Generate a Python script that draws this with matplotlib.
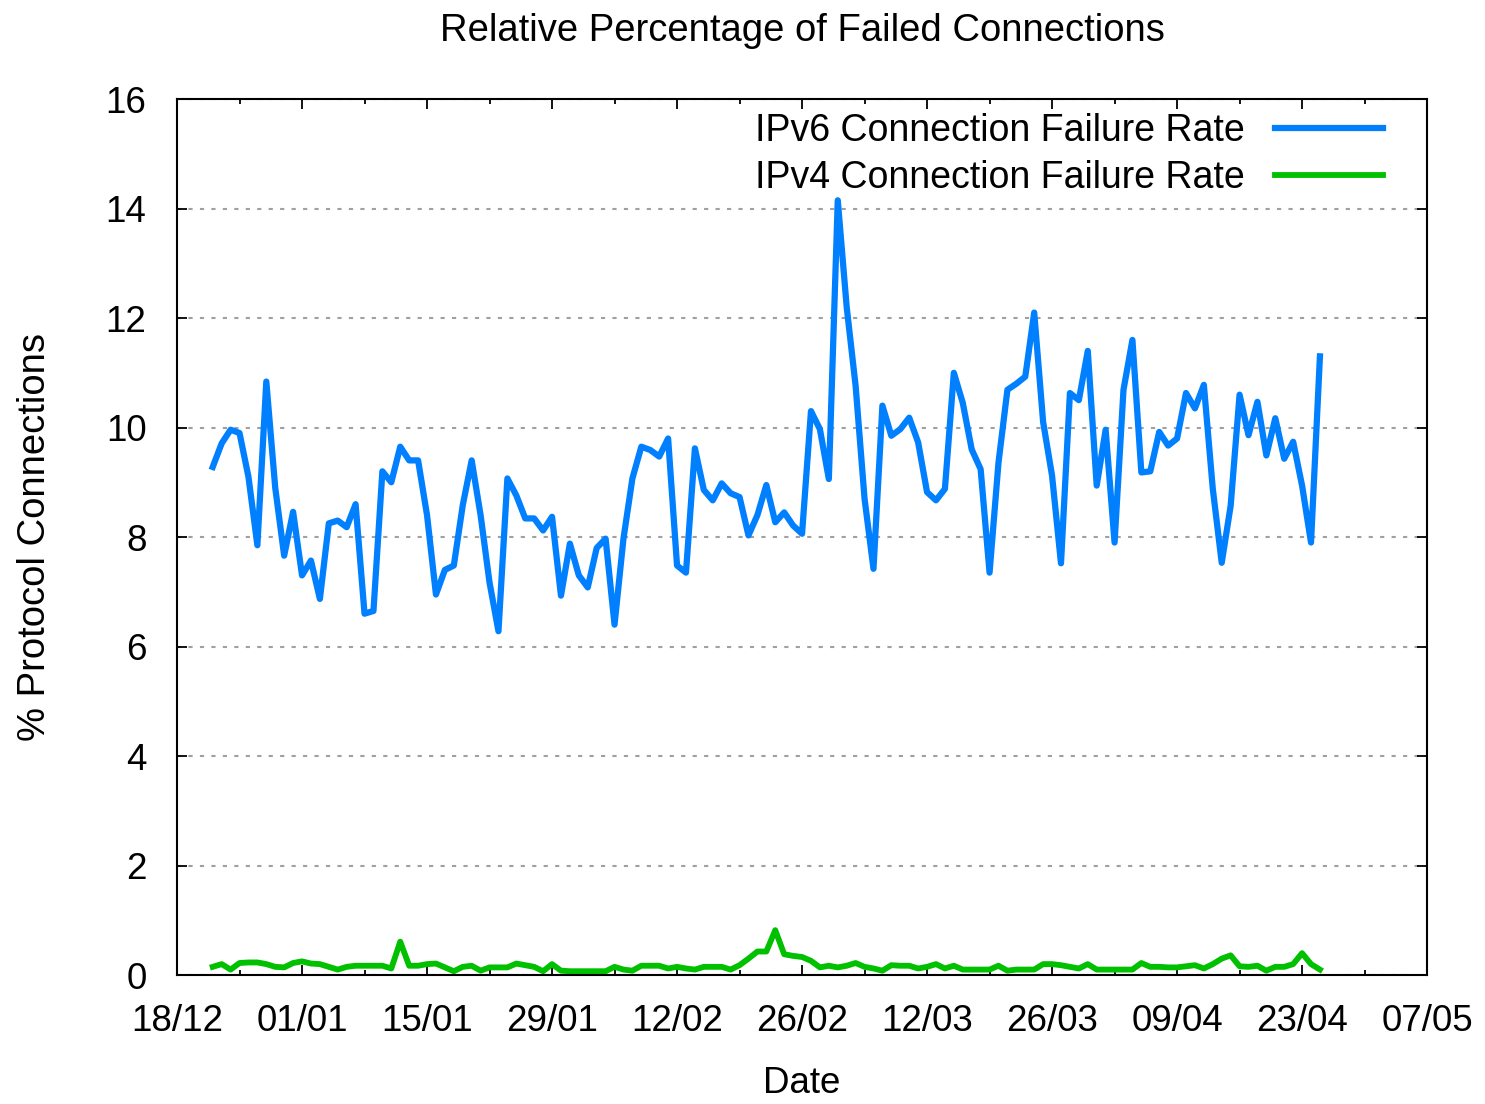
import matplotlib
matplotlib.use("Agg")
import matplotlib.pyplot as plt
import matplotlib.dates as mdates
import pandas as pd

# daily samples, 22/12/2010 .. 25/04/2011
start_date = "2010-12-22"

ipv6_rate = [
    9.28, 9.71, 9.96, 9.90, 9.10, 7.85, 10.84, 8.90, 7.66, 8.46,
    7.30, 7.57, 6.87, 8.25, 8.30, 8.18, 8.60, 6.60, 6.65, 9.20,
    9.00, 9.65, 9.40, 9.40, 8.40, 6.95, 7.40, 7.48, 8.58, 9.40,
    8.40, 7.17, 6.28, 9.07, 8.76, 8.34, 8.34, 8.12, 8.37, 6.93,
    7.88, 7.30, 7.08, 7.80, 7.97, 6.40, 7.97, 9.07, 9.65, 9.59,
    9.47, 9.80, 7.48, 7.35, 9.62, 8.86, 8.67, 8.98, 8.80, 8.73,
    8.03, 8.40, 8.95, 8.27, 8.45, 8.21, 8.06, 10.30, 9.97, 9.06,
    14.15, 12.20, 10.76, 8.70, 7.42, 10.40, 9.85, 9.97, 10.18, 9.73,
    8.82, 8.67, 8.88, 11.00, 10.45, 9.60, 9.24, 7.35, 9.36, 10.69,
    10.80, 10.93, 12.10, 10.10, 9.12, 7.52, 10.63, 10.50, 11.40, 8.94,
    9.96, 7.90, 10.69, 11.60, 9.18, 9.20, 9.92, 9.67, 9.80, 10.63,
    10.35, 10.78, 8.88, 7.53, 8.57, 10.60, 9.86, 10.47, 9.49, 10.17,
    9.43, 9.74, 8.94, 7.90, 11.30,
]

ipv4_rate = [
    0.15, 0.20, 0.10, 0.22, 0.23, 0.23, 0.20, 0.15, 0.14, 0.22,
    0.25, 0.21, 0.20, 0.15, 0.10, 0.15, 0.17, 0.17, 0.17, 0.17,
    0.12, 0.61, 0.17, 0.17, 0.20, 0.21, 0.14, 0.07, 0.15, 0.17,
    0.08, 0.14, 0.14, 0.14, 0.21, 0.18, 0.15, 0.07, 0.20, 0.08,
    0.07, 0.07, 0.07, 0.07, 0.07, 0.15, 0.10, 0.08, 0.17, 0.17,
    0.17, 0.12, 0.15, 0.12, 0.10, 0.15, 0.15, 0.15, 0.10, 0.18,
    0.30, 0.43, 0.43, 0.82, 0.38, 0.35, 0.33, 0.26, 0.14, 0.17,
    0.14, 0.17, 0.22, 0.15, 0.12, 0.08, 0.18, 0.17, 0.17, 0.12,
    0.15, 0.20, 0.12, 0.17, 0.10, 0.10, 0.10, 0.10, 0.17, 0.08,
    0.10, 0.10, 0.10, 0.20, 0.20, 0.18, 0.15, 0.12, 0.20, 0.10,
    0.10, 0.10, 0.10, 0.10, 0.22, 0.15, 0.15, 0.14, 0.14, 0.16,
    0.18, 0.12, 0.20, 0.30, 0.36, 0.16, 0.15, 0.17, 0.08, 0.15,
    0.15, 0.20, 0.40, 0.20, 0.10,
]

dates = pd.date_range(start_date, periods=len(ipv6_rate), freq="D")

plt.rcParams["font.family"] = ["Liberation Sans", "DejaVu Sans"]

fig = plt.figure(figsize=(14.85, 11.04), dpi=100)
ax = fig.add_axes([0.1192, 0.1168, 0.8418, 0.7935])

ax.plot(dates, ipv6_rate, color="#0080ff", lw=4.5, label="IPv6 Connection Failure Rate")
ax.plot(dates, ipv4_rate, color="#00c000", lw=4.2, label="IPv4 Connection Failure Rate")

ax.set_xlim(pd.Timestamp("2010-12-18"), pd.Timestamp("2011-05-07"))
ax.set_ylim(0, 16)
ax.set_yticks(range(0, 17, 2))
ax.set_xticks(pd.date_range("2010-12-18", "2011-05-07", freq="14D"))
ax.set_xticks(pd.date_range("2010-12-18", "2011-05-07", freq="7D"), minor=True)
ax.xaxis.set_major_formatter(mdates.DateFormatter("%d/%m"))

ax.grid(axis="y", color="#a0a0a0", lw=1.5, linestyle=(0, (2, 3.5)))
ax.tick_params(which="both", direction="in", top=True, right=True, width=1.3,
               labelsize=26.5)
ax.tick_params(which="major", length=7)
ax.tick_params(axis="x", which="major", pad=21)
ax.tick_params(axis="y", which="major", pad=22)
ax.tick_params(which="minor", length=3.5)
for s in ax.spines.values():
    s.set_linewidth(1.5)

ax.set_title("Relative Percentage of Failed Connections", fontsize=27.5, pad=42)
ax.set_xlabel("Date", fontsize=26.5, labelpad=19)
ax.set_ylabel("% Protocol Connections", fontsize=27.5, labelpad=38)

ax.legend(loc="upper right", frameon=False, markerfirst=False, fontsize=27,
          handlelength=2.9, handletextpad=0.8, borderaxespad=0.2,
          labelspacing=0.31, bbox_to_anchor=(0.983, 1.01))

fig.savefig("out.png", dpi=100)
